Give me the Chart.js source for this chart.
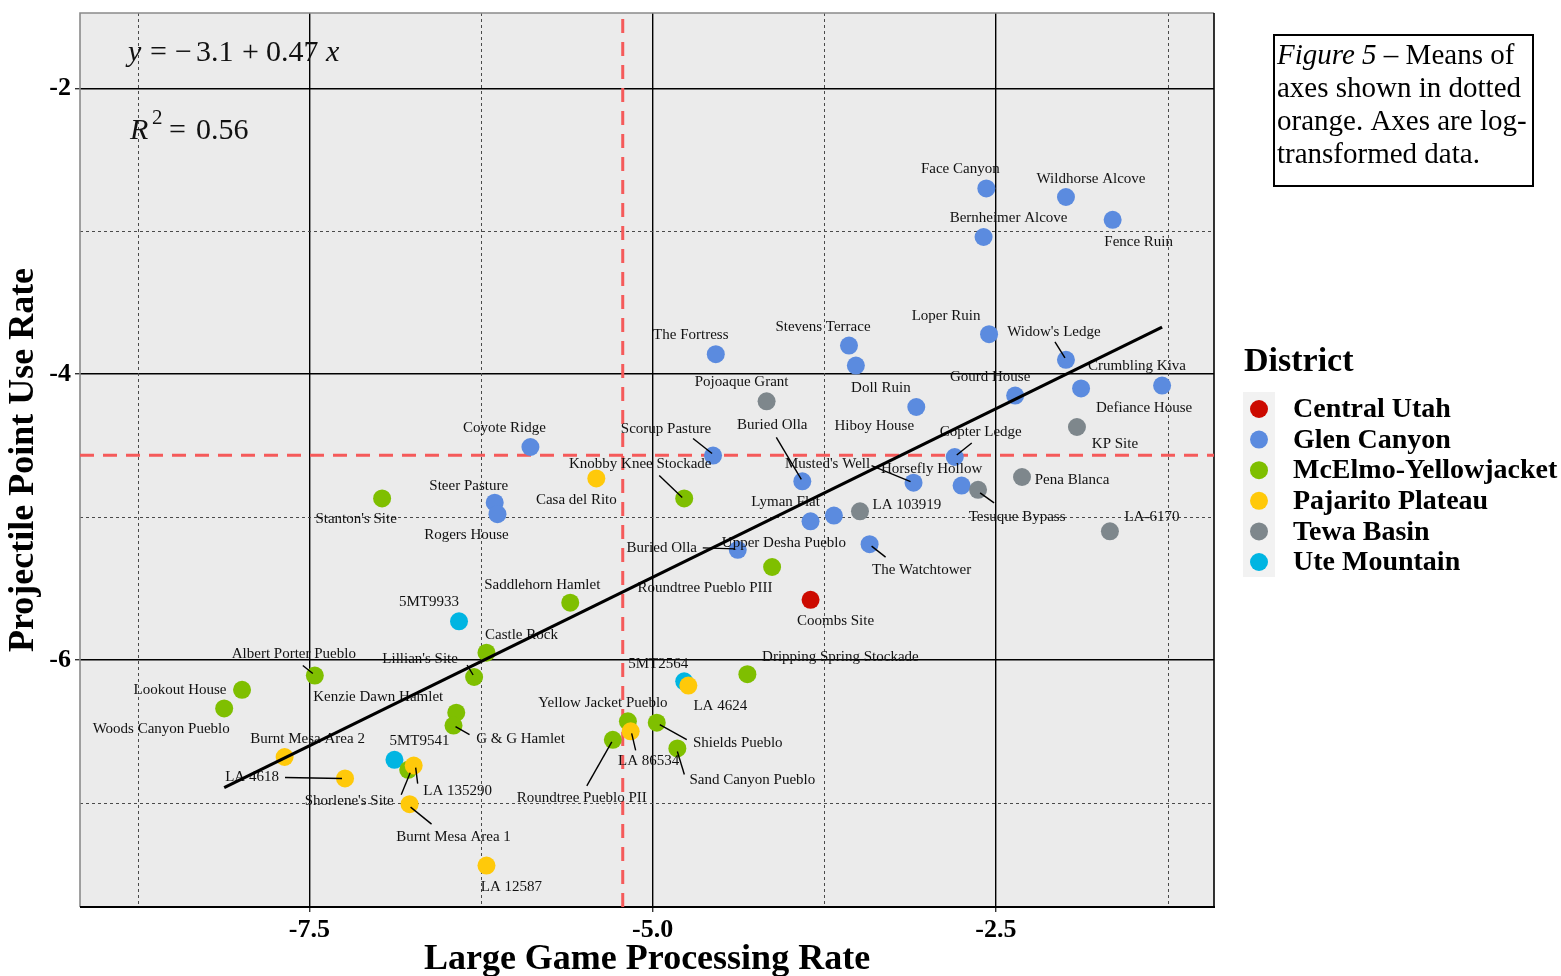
<!DOCTYPE html>
<html>
<head>
<meta charset="utf-8">
<title>Large Game Processing Rate vs Projectile Point Use Rate</title>
<script src="https://cdn.jsdelivr.net/npm/chart.js@4.4.1/dist/chart.umd.min.js"></script>
<style>
  html, body { margin: 0; padding: 0; background: #ffffff; }
  #wrap { width: 1561px; height: 976px; position: relative; }
</style>
</head>
<body>
<div id="wrap"><canvas id="chart" width="1561" height="976"></canvas></div>
<script>
// ---- Data (log-transformed rates per site) ----
const districtNames = ["Central Utah", "Glen Canyon", "McElmo-Yellowjacket", "Pajarito Plateau", "Tewa Basin", "Ute Mountain"];
const districtColors = ["#CC0A00", "#5B8BDF", "#7FBF00", "#FFC90A", "#7E878C", "#00B5E2"];

const sites = [
  "Face Canyon", "Wildhorse Alcove", "Fence Ruin", "Bernheimer Alcove", "Loper Ruin", "Widow's Ledge",
  "Crumbling Kiva", "Defiance House", "Gourd House", "Doll Ruin", "Hiboy House", "Copter Ledge",
  "Musted's Well", "Horsefly Hollow", "Buried Olla", "Lyman Flat", "Upper Desha Pueblo", "The Watchtower",
  "Buried Olla", "The Fortress", "Stevens Terrace", "Scorup Pasture", "Coyote Ridge", "Steer Pasture", "Rogers House",
  "Pojoaque Grant", "LA 103919", "Tesuque Bypass", "Pena Blanca", "KP Site", "LA-6170",
  "Coombs Site",
  "Knobby Knee Stockade", "Roundtree Pueblo PIII", "Stanton's Site", "Saddlehorn Hamlet", "Castle Rock",
  "Lillian's Site", "Albert Porter Pueblo", "Lookout House", "Woods Canyon Pueblo", "Kenzie Dawn Hamlet",
  "G & G Hamlet", "Dripping Spring Stockade", "Yellow Jacket Pueblo", "Shields Pueblo", "Roundtree Pueblo PII",
  "Sand Canyon Pueblo", "Shorlene's Site",
  "Casa del Rito", "LA 4624", "LA 86534", "LA 135290", "Burnt Mesa Area 1", "LA 12587", "Burnt Mesa Area 2", "LA 4618",
  "5MT9933", "5MT9541", "5MT2564"
];

const siteDistrict = [
  "Glen Canyon", "Glen Canyon", "Glen Canyon", "Glen Canyon", "Glen Canyon", "Glen Canyon",
  "Glen Canyon", "Glen Canyon", "Glen Canyon", "Glen Canyon", "Glen Canyon", "Glen Canyon",
  "Glen Canyon", "Glen Canyon", "Glen Canyon", "Glen Canyon", "Glen Canyon", "Glen Canyon",
  "Glen Canyon", "Glen Canyon", "Glen Canyon", "Glen Canyon", "Glen Canyon", "Glen Canyon", "Glen Canyon",
  "Tewa Basin", "Tewa Basin", "Tewa Basin", "Tewa Basin", "Tewa Basin", "Tewa Basin",
  "Central Utah",
  "McElmo-Yellowjacket", "McElmo-Yellowjacket", "McElmo-Yellowjacket", "McElmo-Yellowjacket", "McElmo-Yellowjacket",
  "McElmo-Yellowjacket", "McElmo-Yellowjacket", "McElmo-Yellowjacket", "McElmo-Yellowjacket", "McElmo-Yellowjacket",
  "McElmo-Yellowjacket", "McElmo-Yellowjacket", "McElmo-Yellowjacket", "McElmo-Yellowjacket", "McElmo-Yellowjacket",
  "McElmo-Yellowjacket", "McElmo-Yellowjacket",
  "Pajarito Plateau", "Pajarito Plateau", "Pajarito Plateau", "Pajarito Plateau", "Pajarito Plateau",
  "Pajarito Plateau", "Pajarito Plateau", "Pajarito Plateau",
  "Ute Mountain", "Ute Mountain", "Ute Mountain"
];

const largeGameRate = [
  -2.57, -1.99, -1.65, -2.59, -2.55, -1.99,
  -1.88, -1.29, -2.36, -3.52, -3.08, -2.80,
  -3.10, -2.75, -3.91, -3.85, -3.68, -3.42,
  -4.38, -4.54, -3.57, -4.56, -5.89, -6.15, -6.13,
  -4.17, -3.49, -2.63, -2.31, -1.91, -1.67,
  -3.85,
  -4.77, -4.13, -6.97, -5.60, -6.21,
  -6.30, -7.46, -7.99, -8.12, -6.43,
  -6.45, -4.31, -5.18, -4.97, -5.29,
  -4.82, -6.78,
  -5.41, -4.74, -5.16, -6.74, -6.77, -6.21, -7.68, -7.24,
  -6.41, -6.88, -4.77
];

const projectilePointRate = [
  -2.70, -2.76, -2.92, -3.04, -3.72, -3.90,
  -4.10, -4.08, -4.15, -3.94, -4.23, -4.58,
  -4.76, -4.78, -4.75, -5.03, -4.99, -5.19,
  -5.23, -3.86, -3.80, -4.57, -4.51, -4.90, -4.98,
  -4.19, -4.96, -4.81, -4.72, -4.37, -5.10,
  -5.58,
  -4.87, -5.35, -4.87, -5.60, -5.95,
  -6.12, -6.11, -6.21, -6.34, -6.37,
  -6.46, -6.10, -6.43, -6.44, -6.56,
  -6.62, -6.77,
  -4.73, -6.18, -6.50, -6.74, -7.01, -7.44, -6.68, -6.83,
  -5.73, -6.70, -6.15
];

const xTickValues = [-7.5, -5.0, -2.5];
const yTickValues = [-6, -4, -2];

// ---- Label placement (pixel offsets of each site label from its point) ----
const labelOffsets = [
  [-26, -19], [25, -18], [26, 22], [25, -19], [-43, -18], [-12, -28],
  [56, -22], [-18, 22], [-25, -19], [25, 22], [-42, 19], [26, -25],
  [-86, -19], [-30, -17], [-30, -56], [-25, -19], [-50, 27], [52, 26],
  [-76, -2], [-25, -19], [-26, -19], [-47, -27], [-26, -19], [-26, -17], [-31, 21],
  [-25, -19], [47, -6], [39, 27], [50, 3], [38, 17], [42, -14],
  [25, 21],
  [-44, -34], [-67, 21], [-26, 21], [-28, -18], [35, -18],
  [-54, -18], [-21, -22], [-62, 0], [-63, 21], [-78, -16],
  [67, 13], [93, -17], [-25, -18], [81, 20], [-31, 58],
  [75, 32], [-59, 31],
  [-20, 22], [32, 20], [18, 30], [44, 25], [44, 33], [25, 21], [23, -18], [-93, -1],
  [-30, -19], [25, -19], [-26, -17]
];

// Leader segments [startDx, startDy, endDx, endDy] relative to the point, or null
const leaderSegments = sites.map(() => null);
Object.assign(leaderSegments, {
  5: [-1, -2, -11, -18],
  11: [2, -2, 17, -14],
  12: [-3, -1, -42, -17],
  14: [-1, -2, -26, -44],
  17: [2, 2, 16, 13],
  18: [-3, -1, -35, -2],
  21: [-1, -2, -20, -17],
  27: [2, 3, 16, 13],
  32: [-2, -1, -25, -23],
  37: [-1, -2, -7, -12],
  38: [-2, -2, -12, -10],
  42: [2, 1, 16, 9],
  45: [3, 2, 30, 17],
  46: [-1, 2, -26, 46],
  47: [0, 3, 7, 26],
  48: [2, 3, -7, 25],
  51: [1, 2, 5, 19],
  52: [2, 2, 4, 18],
  53: [1, 3, 22, 20],
  56: [-3, 0, -60, -1]
});

// ---- Derived statistics ----
const mean = a => a.reduce((s, v) => s + v, 0) / a.length;
const mx = mean(largeGameRate), my = mean(projectilePointRate);
let sxx = 0, sxy = 0;
largeGameRate.forEach((x, i) => { sxx += (x - mx) * (x - mx); sxy += (x - mx) * (projectilePointRate[i] - my); });
const slope = sxy / sxx;
const intercept = my - slope * mx;
const xFitMin = Math.min(...largeGameRate), xFitMax = Math.max(...largeGameRate);

const X_MIN = -9.17, X_MAX = -0.912, Y_MIN = -7.73, Y_MAX = -1.472;

const FONT = '"Liberation Serif", "Times New Roman", serif';

// Stacking of the point layers (higher order is drawn first / underneath)
const stackOrder = { "Central Utah": 2, "Pajarito Plateau": 3, "McElmo-Yellowjacket": 4, "Tewa Basin": 5, "Glen Canyon": 6, "Ute Mountain": 7 };

const pointDatasets = districtNames.map((name, d) => ({
  label: name,
  data: sites.map((s, i) => ({ x: largeGameRate[i], y: projectilePointRate[i], i }))
             .filter(p => siteDistrict[p.i] === name),
  backgroundColor: districtColors[d],
  borderWidth: 0,
  pointRadius: 9,
  pointHoverRadius: 9,
  order: stackOrder[name]
}));

const REG_INDEX = pointDatasets.length;

const datasets = pointDatasets.concat([
  {
    label: 'fit',
    data: [{ x: xFitMin, y: intercept + slope * xFitMin }, { x: xFitMax, y: intercept + slope * xFitMax }],
    showLine: true, borderColor: '#000', borderWidth: 3.2, pointRadius: 0, order: 1
  },
  {
    label: 'mean-v',
    data: [{ x: my, y: Y_MIN }, { x: my, y: Y_MAX }],
    showLine: true, borderColor: '#F55A5A', borderWidth: 3, borderDash: [14, 9], pointRadius: 0, order: 9
  },
  {
    label: 'mean-h',
    data: [{ x: X_MIN, y: mx }, { x: X_MAX, y: mx }],
    showLine: true, borderColor: '#F55A5A', borderWidth: 3, borderDash: [14, 9], pointRadius: 0, order: 9
  }
]);

// ---- Plugins ----
const panelPlugin = {
  id: 'panel',
  beforeDraw(chart) {
    const { ctx, chartArea: a } = chart;
    ctx.save();
    ctx.fillStyle = '#EBEBEB';
    ctx.fillRect(a.left, a.top, a.right - a.left, a.bottom - a.top);
    ctx.restore();
  },
  beforeDatasetsDraw(chart) {
    const { ctx, chartArea: a, scales } = chart;
    ctx.save();
    // minor grid
    ctx.strokeStyle = '#4a4a4a';
    ctx.lineWidth = 1;
    ctx.setLineDash([3, 3]);
    [-8.75, -6.25, -3.75, -1.25].forEach(v => {
      const px = Math.round(scales.x.getPixelForValue(v)) + 0.5;
      ctx.beginPath(); ctx.moveTo(px, a.top); ctx.lineTo(px, a.bottom); ctx.stroke();
    });
    [-7, -5, -3].forEach(v => {
      const py = Math.round(scales.y.getPixelForValue(v)) + 0.5;
      ctx.beginPath(); ctx.moveTo(a.left, py); ctx.lineTo(a.right, py); ctx.stroke();
    });
    ctx.setLineDash([]);
    // panel border
    ctx.lineWidth = 1.6;
    ctx.strokeStyle = '#8a8a8a';
    ctx.beginPath(); ctx.moveTo(a.left, a.bottom); ctx.lineTo(a.left, a.top); ctx.lineTo(a.right, a.top); ctx.stroke();
    ctx.strokeStyle = '#000';
    ctx.beginPath(); ctx.moveTo(a.right, a.top); ctx.lineTo(a.right, a.bottom); ctx.stroke();
    ctx.lineWidth = 2.2;
    ctx.beginPath(); ctx.moveTo(a.left, a.bottom); ctx.lineTo(a.right + 1, a.bottom); ctx.stroke();
    ctx.restore();
  }
};

const labelPlugin = {
  id: 'siteLabels',
  beforeDatasetDraw(chart, args) {
    if (args.index !== REG_INDEX) return;
    const { ctx, scales } = chart;
    ctx.save();
    ctx.font = `15px ${FONT}`;
    ctx.fillStyle = '#111';
    ctx.textAlign = 'center';
    ctx.textBaseline = 'middle';
    ctx.strokeStyle = '#000';
    ctx.lineWidth = 1.4;
    sites.forEach((name, i) => {
      const px = scales.x.getPixelForValue(largeGameRate[i]);
      const py = scales.y.getPixelForValue(projectilePointRate[i]);
      const seg = leaderSegments[i];
      if (seg) {
        ctx.beginPath();
        ctx.moveTo(px + seg[0], py + seg[1]);
        ctx.lineTo(px + seg[2], py + seg[3]);
        ctx.stroke();
      }
      const [dx, dy] = labelOffsets[i];
      ctx.fillText(name, px + dx, py + dy);
    });
    ctx.restore();
  }
};

const annotationPlugin = {
  id: 'annotations',
  afterDraw(chart) {
    const { ctx } = chart;
    ctx.save();
    ctx.fillStyle = '#111';
    ctx.textBaseline = 'alphabetic';
    ctx.textAlign = 'left';

    // regression equation and fit quality
    ctx.font = `italic 30px ${FONT}`;
    ctx.fillText('y', 128, 61);
    ctx.font = `30px ${FONT}`;
    ctx.fillText('=', 150, 61);
    ctx.fillText('\u2212', 175, 61);
    ctx.fillText('3.1', 196, 61);
    ctx.fillText('+', 242, 61);
    ctx.fillText('0.47', 266, 61);
    ctx.font = `italic 30px ${FONT}`;
    ctx.fillText('x', 326, 61);

    ctx.fillText('R', 130, 139);
    ctx.font = `21px ${FONT}`;
    ctx.fillText('2', 152, 124);
    ctx.font = `30px ${FONT}`;
    ctx.fillText('=', 169, 139);
    ctx.fillText('0.56', 196, 139);

    // caption box
    ctx.strokeStyle = '#000';
    ctx.lineWidth = 2;
    ctx.strokeRect(1274, 35, 259, 151);
    ctx.fillStyle = '#000';
    ctx.font = `italic 29px ${FONT}`;
    ctx.fillText('Figure 5', 1277, 64);
    const fw = ctx.measureText('Figure 5').width;
    ctx.font = `29px ${FONT}`;
    ctx.fillText(' \u2013 Means of', 1277 + fw, 64);
    ctx.fillText('axes shown in dotted', 1277, 97);
    ctx.fillText('orange. Axes are log-', 1277, 130);
    ctx.fillText('transformed data.', 1277, 163);

    // legend
    ctx.font = `bold 34px ${FONT}`;
    ctx.fillText('District', 1244, 371);
    ctx.fillStyle = '#F2F2F2';
    ctx.fillRect(1243, 392, 32, 185);
    ctx.font = `bold 28px ${FONT}`;
    ctx.textBaseline = 'middle';
    districtNames.forEach((name, d) => {
      const cy = 409 + d * 30.6;
      ctx.fillStyle = districtColors[d];
      ctx.beginPath(); ctx.arc(1259, cy, 9, 0, Math.PI * 2); ctx.fill();
      ctx.fillStyle = '#000';
      ctx.fillText(name, 1293, cy + 1);
    });
    ctx.restore();
  }
};

new Chart(document.getElementById('chart'), {
  type: 'scatter',
  data: { datasets },
  plugins: [panelPlugin, labelPlugin, annotationPlugin],
  options: {
    responsive: false,
    animation: false,
    events: [],
    layout: { padding: { top: 13, right: 347, left: 0, bottom: 0 } },
    plugins: { legend: { display: false }, tooltip: { enabled: false } },
    scales: {
      x: {
        type: 'linear',
        min: X_MIN, max: X_MAX,
        afterBuildTicks: s => { s.ticks = xTickValues.map(v => ({ value: v })); },
        afterFit: s => { s.height = 69; s.paddingLeft = 0; s.paddingRight = 0; },
        ticks: {
          callback: v => v.toFixed(1),
          font: { family: FONT, size: 26, weight: 'bold' },
          color: '#000',
          padding: 3
        },
        grid: { color: '#000', lineWidth: 1.4, drawTicks: true, tickLength: 5, tickColor: '#333', tickWidth: 1.4 },
        border: { display: false },
        title: {
          display: true,
          text: 'Large Game Processing Rate',
          font: { family: FONT, size: 36, weight: 'bold', lineHeight: 0.9 },
          color: '#000',
          padding: { top: 0, bottom: 0 }
        }
      },
      y: {
        type: 'linear',
        min: Y_MIN, max: Y_MAX,
        afterBuildTicks: s => { s.ticks = yTickValues.map(v => ({ value: v })); },
        afterFit: s => { s.width = 80; s.paddingTop = 0; s.paddingBottom = 0; },
        ticks: {
          callback: v => String(v),
          font: { family: FONT, size: 26, weight: 'bold' },
          color: '#000',
          padding: 4
        },
        grid: { color: '#000', lineWidth: 1.4, drawTicks: true, tickLength: 5, tickColor: '#333', tickWidth: 1.4 },
        border: { display: false },
        title: {
          display: true,
          text: 'Projectile Point Use Rate',
          font: { family: FONT, size: 36, weight: 'bold', lineHeight: 0.9 },
          color: '#000',
          padding: { top: 8, bottom: 0 }
        }
      }
    }
  }
});
</script>
</body>
</html>
